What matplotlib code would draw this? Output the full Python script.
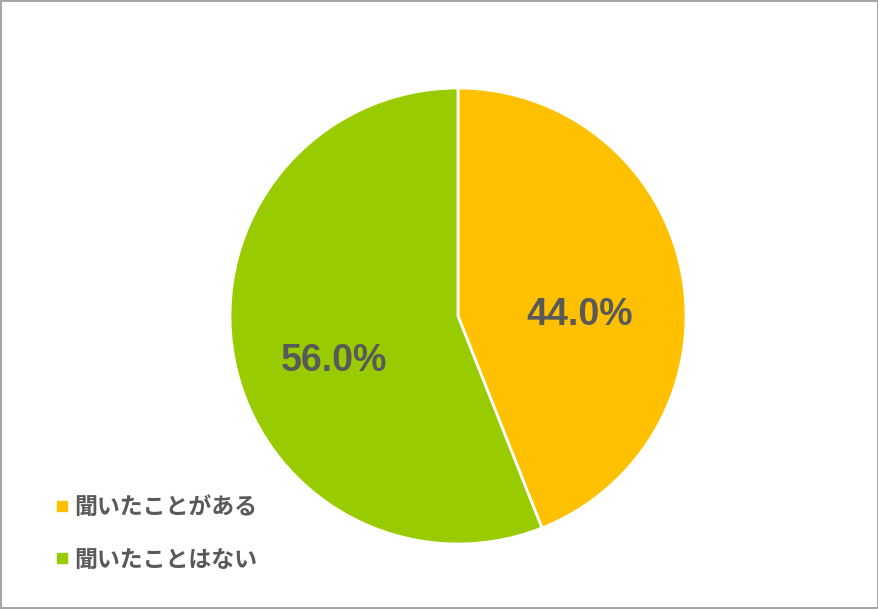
import matplotlib.pyplot as plt
from matplotlib.lines import Line2D
from matplotlib.transforms import ScaledTranslation

plt.rcParams['font.family'] = ['Noto Sans CJK JP', 'DejaVu Sans']

# データ
labels = ['聞いたことがある', '聞いたことはない']
values = [44.0, 56.0]
colors = ['#FFC000', '#99CC00']

W, H = 879, 609
fig = plt.figure(figsize=(W / 100, H / 100), dpi=100)
fig.patch.set_edgecolor('#A6A6A6')
fig.patch.set_linewidth(1.5)

# 円の中心と半径 (ピクセル)
cx, cy, r = 458, 609 - 316, 228
ax = fig.add_axes([(cx - r) / W, (cy - r) / H, 2 * r / W, 2 * r / H])

wedges, texts, autotexts = ax.pie(
    values, colors=colors, startangle=90, counterclock=False,
    autopct='%.1f%%', pctdistance=0.55, radius=1,
    wedgeprops=dict(edgecolor='white', linewidth=2),
    textprops=dict(color='#595959', fontsize=27, fontweight='bold',
                   family=['Liberation Sans', 'DejaVu Sans']))
# ラベルを少し下へ
shift = ScaledTranslation(-0.01, -0.22, fig.dpi_scale_trans)
for t in autotexts:
    t.set_transform(ax.transData + shift)
ax.set_xlim(-1.0, 1.0)
ax.set_ylim(-1.0, 1.0)
ax.set_aspect('equal')

# 凡例
handles = [Line2D([], [], marker='s', linestyle='none', markersize=7,
                  markerfacecolor=c, markeredgecolor=c) for c in colors]
fig.legend(handles, labels, loc='upper left', bbox_to_anchor=(30 / W, 1 - 475 / H),
           frameon=False, handletextpad=0.05, labelspacing=1.3, handlelength=1.0,
           prop=dict(family=['Noto Sans CJK JP'], size=16.5, weight='bold'),
           labelcolor='#595959')

fig.savefig('out.png', dpi=100)
